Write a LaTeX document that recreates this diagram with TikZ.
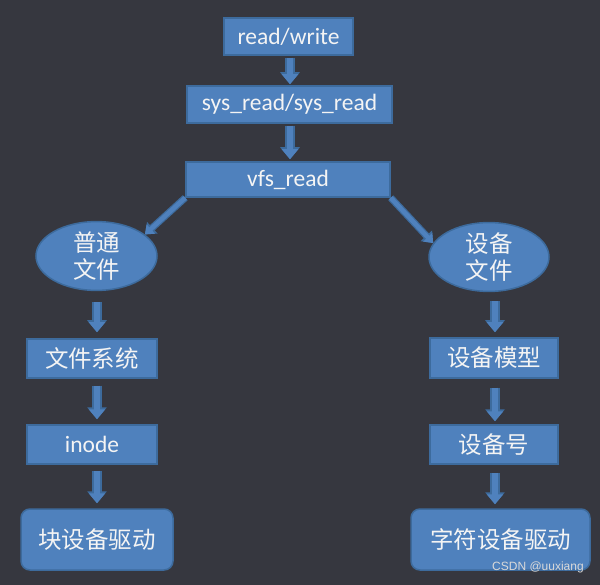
\documentclass[tikz,border=0pt]{standalone}
\usepackage{fontspec}
\setmainfont{Carlito}
\newfontfamily\cjk{Noto Sans CJK SC}
\newfontfamily\wmfont{Liberation Sans}
\usetikzlibrary{shapes.geometric,arrows.meta}
\definecolor{bg}{HTML}{36373F}
\definecolor{boxfill}{HTML}{4F81BD}
\definecolor{boxline}{HTML}{3D6B9D}
\definecolor{txt}{HTML}{F4F4F4}
\tikzset{
  base/.style={fill=boxfill, draw=boxline, line width=1.5pt, text=txt, inner sep=0pt,
    font=\fontsize{23.5}{27}\selectfont},
  box/.style={base, rectangle},
  oval/.style={base, ellipse, align=center},
  rbox/.style={base, rectangle, rounded corners=9pt},
  flow/.style={line width=6.5pt, draw=boxfill, -{Triangle[width=16pt,length=10pt]},
    preaction={draw=boxline, line width=9.5pt, -{Triangle[width=19pt,length=12pt]}}},
  slant/.style={line width=4.5pt, draw=boxfill, -{Triangle[width=12pt,length=8pt]},
    preaction={draw=boxline, line width=7pt, -{Triangle[width=15pt,length=10pt]}}}
}
\begin{document}
\begin{tikzpicture}[x=1pt, y=-1pt]
\fill[bg] (0,0) rectangle (600,585);
\useasboundingbox (0,0) rectangle (600,585);

\node[box, minimum width=129pt, minimum height=37pt] (rw) at (288.5,36.5) {read/write};
\node[box, minimum width=205pt, minimum height=37pt] (sys) at (289.5,104.5) {sys\_read/sys\_read};
\node[box, minimum width=204pt, minimum height=35pt] (vfs) at (288,179.5) {vfs\_read};

\node[oval, minimum width=121pt, minimum height=66pt] (reg) at (96.5,256) {\cjk 普通\\\cjk 文件};
\node[oval, minimum width=120pt, minimum height=68pt] (dev) at (489,257) {\cjk 设备\\\cjk 文件};

\node[box, minimum width=130pt, minimum height=39pt] (fs) at (92,358.5) {\cjk 文件系统};
\node[box, minimum width=130pt, minimum height=39pt] (ino) at (92,444.5) {inode};
\node[rbox, minimum width=152pt, minimum height=61pt] (blk) at (97,539.5) {\cjk 块设备驱动};

\node[box, minimum width=128pt, minimum height=40pt] (dm) at (494,358) {\cjk 设备模型};
\node[box, minimum width=128pt, minimum height=39pt] (dn) at (494,444.5) {\cjk 设备号};
\node[rbox, minimum width=179pt, minimum height=61pt] (chr) at (500.5,539.5) {\cjk 字符设备驱动};

\coordinate (cm) at (290,0);
\coordinate (cl) at (97,0);
\coordinate (cr) at (495,0);

\draw[flow, shorten <=2pt, shorten >=1pt] (rw.south -| cm) -- (sys.north -| cm);
\draw[flow, shorten <=2pt, shorten >=2pt] (sys.south -| cm) -- (vfs.north -| cm);

\draw[slant] (vfs.south west) -- (reg.24);
\draw[slant] (vfs.south east) -- (dev.166);

\draw[flow, shorten <=11pt, shorten >=6pt] (reg.south -| cl) -- (fs.north -| cl);
\draw[flow, shorten <=7pt, shorten >=5pt] (fs.south -| cl) -- (ino.north -| cl);
\draw[flow, shorten <=6pt, shorten >=5pt] (ino.south -| cl) -- (blk.north -| cl);

\draw[flow, shorten <=9pt, shorten >=5pt] (dev.south -| cr) -- (dm.north -| cr);
\draw[flow, shorten <=9pt, shorten >=3pt] (dm.south -| cr) -- (dn.north -| cr);
\draw[flow, shorten <=8pt, shorten >=4pt] (dn.south -| cr) -- (chr.north -| cr);

\node[text=white!85!black, font=\wmfont\fontsize{12}{12}\selectfont, inner sep=0pt] (wm) at (538,567) {CSDN @uuxiang};
\end{tikzpicture}
\end{document}
